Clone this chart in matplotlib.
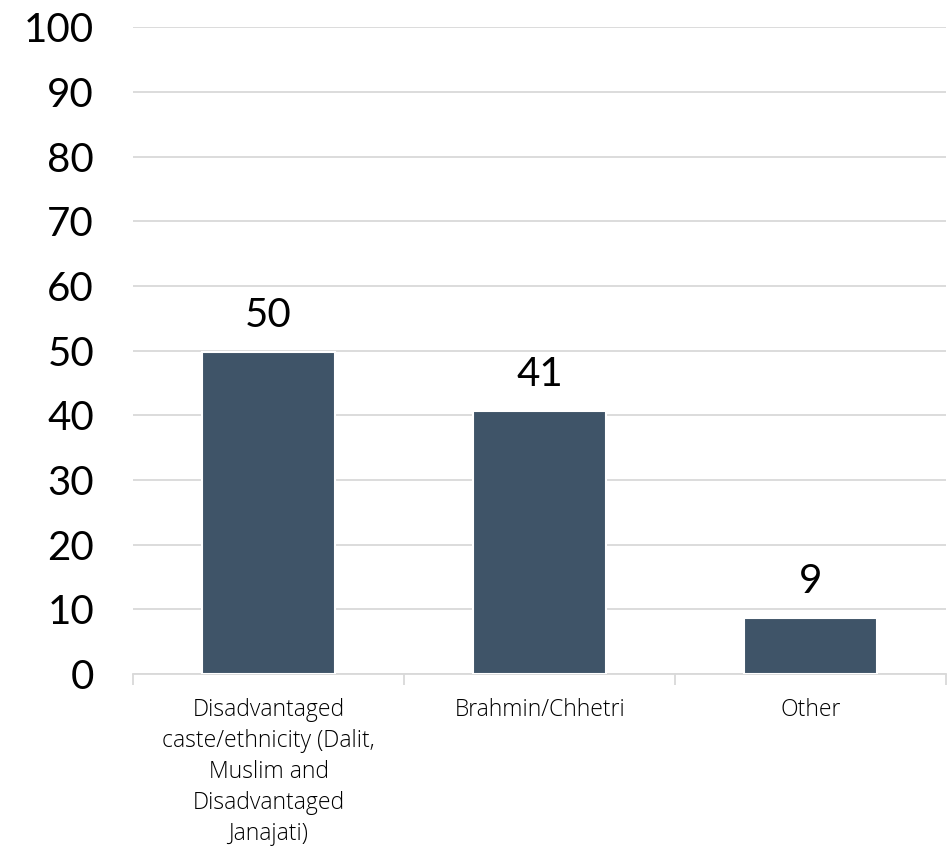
import matplotlib
matplotlib.use('Agg')
from matplotlib import pyplot as plt

categories = ['Disadvantaged\ncaste/ethnicity (Dalit,\nMuslim and\nDisadvantaged\nJanajati)',
              'Brahmin/Chhetri', 'Other']
values = [49.8, 40.7, 8.6]
value_labels = ['50', '41', '9']

plt.rcParams['font.family'] = ['Lato', 'DejaVu Sans']

fig = plt.figure(figsize=(9.48, 8.51), dpi=100)
ax = fig.add_axes([0.1403, 0.208, 0.858, 0.760])

x = list(range(len(categories)))
bars = ax.bar(x, values, width=0.49, color='#3F5468', edgecolor='white', linewidth=1.5, zorder=3)
for xi, v, lab in zip(x, values, value_labels):
    ax.text(xi, v + 2.8, lab, ha='center', va='bottom', fontsize=29, color='black')

ax.set_xlim(-0.5, 2.5)
ax.set_ylim(0, 100)
ax.set_yticks(range(0, 101, 10))
ax.tick_params(axis='y', length=0, labelsize=29, pad=28)
ax.yaxis.grid(True, color='#d9d9d9', linewidth=1.3, zorder=0)
ax.set_axisbelow(True)

ax.set_xticks(x)
ax.set_xticklabels(categories, fontsize=16.5, linespacing=1.4, fontweight='light',
                   family=['Open Sans', 'DejaVu Sans'])
ax.tick_params(axis='x', length=0, pad=17)
ax.set_xticks([-0.5, 0.5, 1.5, 2.5], minor=True)
ax.tick_params(axis='x', which='minor', length=8, color='#d9d9d9', width=1.3)

for s in ['top', 'right', 'left']:
    ax.spines[s].set_visible(False)
ax.spines['bottom'].set_color('#d9d9d9')
ax.spines['bottom'].set_linewidth(1.3)

plt.savefig('out.png', dpi=100)
print('done')
